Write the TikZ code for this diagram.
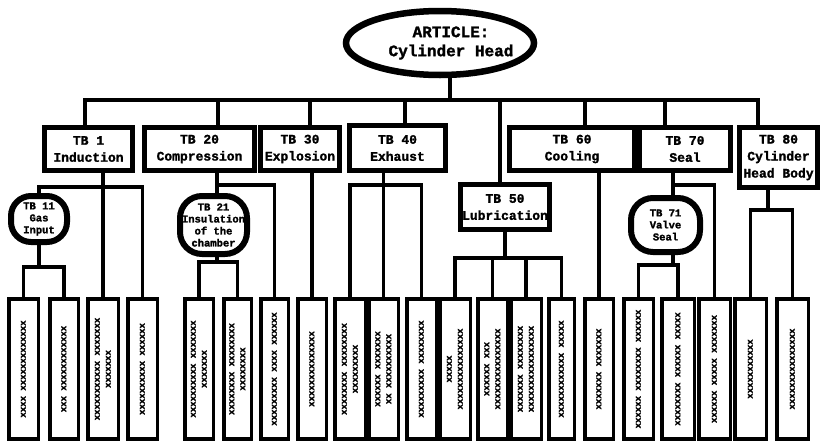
\documentclass[tikz,border=0pt]{standalone}
\usepackage{fontspec}
\newfontfamily\cmono{Liberation Mono}[BoldFeatures={FakeBold=1.6}]
\usetikzlibrary{shapes.geometric}
\newcommand\leaftxt[1]{\rotatebox{90}{\begin{tabular}{@{}c@{}}#1\end{tabular}}}
\tikzset{
 conn/.style={line width=3.5pt, line cap=rect},
 tbbox/.style={draw, line width=5pt, rectangle, inner sep=0pt, align=center,
   font=\cmono\bfseries\fontsize{13}{17}\selectfont},
 rnode/.style={draw, line width=6pt, rectangle, inner sep=0pt, align=center,
   font=\cmono\bfseries\fontsize{10.5}{12}\selectfont},
 leaf/.style={draw, line width=3.5pt, rectangle, inner sep=0pt, minimum height=140pt,
   font=\cmono\bfseries\fontsize{9}{11}\selectfont},
}
\begin{document}
\begin{tikzpicture}[x=1pt,y=-1pt]
\path[use as bounding box] (0,0) rectangle (821,442);
% root
\node[draw, ellipse, line width=6.5pt, minimum width=188pt, minimum height=64pt, inner sep=0pt] (art) at (440,43) {};
\node[align=center, inner sep=0pt, font=\cmono\bfseries\fontsize{16}{19}\selectfont] (artt) at (451,43) {ARTICLE:\\Cylinder Head};
% level 1
\node[tbbox, minimum width=88pt, minimum height=43pt] (tb1) at (88.5,149) {TB 1\\Induction};
\node[tbbox, minimum width=110pt, minimum height=43pt] (tb20) at (199.5,149) {TB 20\\Compression};
\node[tbbox, minimum width=79pt, minimum height=43pt] (tb30) at (300,149) {TB 30\\Explosion};
\node[tbbox, minimum width=96pt, minimum height=45pt] (tb40) at (397.5,148) {TB 40\\Exhaust};
\node[tbbox, minimum width=89pt, minimum height=45pt] (tb50) at (505,207) {TB 50\\Lubrication};
\node[tbbox, minimum width=125pt, minimum height=43pt] (tb60) at (572,149) {TB 60\\Cooling};
\node[tbbox, minimum width=91pt, minimum height=43pt] (tb70) at (685,149) {TB 70\\Seal};
\node[tbbox, minimum width=78pt, minimum height=60pt] (tb80) at (778.5,157.5) {TB 80\\Cylinder\\Head Body};
% rounded nodes
\node[rnode, rounded corners=20pt, minimum width=56pt, minimum height=46pt] (tb11) at (39,219) {TB 11\\Gas\\Input};
\node[rnode, rounded corners=22pt, minimum width=67pt, minimum height=58pt] (tb21) at (213.5,225) {TB 21\\Insulation\\of the\\chamber};
\node[rnode, rounded corners=22pt, minimum width=69pt, minimum height=54pt] (tb71) at (665.5,225) {TB 71\\Valve\\Seal};
% leaves
\node[leaf, minimum width=29.5pt] (l1) at (23.5,369) {\leaftxt{xxxx xxxxxxxxxxxxx}};
\node[leaf, minimum width=28.5pt] (l2) at (64,369) {\leaftxt{xxx xxxxxxxxxxxx}};
\node[leaf, minimum width=30.5pt] (l3) at (103,369) {\leaftxt{xxxxxxxxxxx xxxxxxx\\xxxxxxx}};
\node[leaf, minimum width=29.5pt] (l4) at (142.5,369) {\leaftxt{xxxxxxxxxx xxxxxx}};
\node[leaf, minimum width=28.5pt] (l5) at (199,369) {\leaftxt{xxxxxxxxxx xxxxxxx\\xxxxxxx}};
\node[leaf, minimum width=27.5pt] (l6) at (237.5,369) {\leaftxt{xxxxxxxx xxxxxxxx\\xxxxxxxx}};
\node[leaf, minimum width=27.5pt] (l7) at (274.5,369) {\leaftxt{xxxxxxxxx xxxx xxxxxx}};
\node[leaf, minimum width=28.5pt] (l8) at (312,369) {\leaftxt{xxxxxxxxxxxxxx}};
\node[leaf, minimum width=30.5pt] (l9) at (350,369) {\leaftxt{xxxxxxxx xxxxxxxx\\xxxxxxxxx}};
\node[leaf, minimum width=29.5pt] (l10) at (383.5,369) {\leaftxt{xxxxxx xxxxxxx\\xx xxxxxxxxxx}};
\node[leaf, minimum width=29.5pt] (l11) at (421.5,369) {\leaftxt{xxxxxxxxx xxxxxxxx}};
\node[leaf, minimum width=30.5pt] (l12) at (455,369) {\leaftxt{xxxxx\\xxxxxxxxxxxxxxx}};
\node[leaf, minimum width=29.5pt] (l13) at (492.5,369) {\leaftxt{xxxxxx xxx\\xxxxxxxxxxxxxxx}};
\node[leaf, minimum width=30.5pt] (l14) at (526,369) {\leaftxt{xxxxxxx xxxxxxxx\\xxxxxxxxxxxxxxxx}};
\node[leaf, minimum width=25.5pt] (l15) at (561.5,369) {\leaftxt{xxxxxxxxxxxx xxxxx}};
\node[leaf, minimum width=28.5pt] (l16) at (599,369) {\leaftxt{xxxxxxx xxxxxxx}};
\node[leaf, minimum width=29.5pt] (l17) at (638.5,369) {\leaftxt{xxxxxx xxxxxxxx xxxxxx}};
\node[leaf, minimum width=32.5pt] (l18) at (678,369) {\leaftxt{xxxxxxxx xxxxxx xxxxx}};
\node[leaf, minimum width=31.5pt] (l19) at (714.5,369) {\leaftxt{xxxxxx xxxxx xxxxxxx}};
\node[leaf, minimum width=31.5pt] (l20) at (750.5,369) {\leaftxt{xxxxxxxxxxx}};
\node[leaf, minimum width=31.5pt] (l21) at (792.5,369) {\leaftxt{xxxxxxxxxxxxxxx}};
% junctions
\coordinate (bt) at (450,100);
\coordinate (b1) at (85,100);
\coordinate (b2) at (218,100);
\coordinate (b3) at (310,100);
\coordinate (b4) at (405,100);
\coordinate (b5) at (500,100);
\coordinate (b6) at (585,100);
\coordinate (b7) at (665,100);
\coordinate (b8) at (758,100);
\coordinate (j1) at (103,187);
\coordinate (j11) at (39,267);
\coordinate (j20) at (217,185);
\coordinate (j21) at (217,262);
\coordinate (j40) at (383.5,185);
\coordinate (j50) at (505,258);
\coordinate (j70) at (673,185);
\coordinate (j71) at (673,265);
\coordinate (j80) at (768,210);
% bus
\draw[conn] (art.south -| bt) -- (bt);
\draw[conn] (b1) -- (b8);
\foreach \b/\t in {b1/tb1, b2/tb20, b3/tb30, b4/tb40, b5/tb50, b6/tb60, b7/tb70, b8/tb80}
  \draw[conn] (\b) -- (\b |- \t.north);
% TB 1
\draw[conn] (tb1.south -| l3.north) -- (l3.north);
\draw[conn] (tb11.north) |- (j1) -| (l4.north);
\draw[conn] (tb11.south) -- (j11);
\draw[conn] (l1.north) |- (j11) -| (l2.north);
% TB 20
\draw[conn] (tb20.south -| j20) -- (tb21.north -| j20);
\draw[conn] (j20) -| (l7.north);
\draw[conn] (tb21.south -| j21) -- (j21);
\draw[conn] (l5.north) |- (j21) -| (l6.north);
% TB 30
\draw[conn] (tb30.south -| l8.north) -- (l8.north);
% TB 40
\draw[conn] (tb40.south -| l10.north) -- (l10.north);
\draw[conn] (l9.north) |- (j40) -| (l11.north);
% TB 50
\draw[conn] (tb50.south -| j50) -- (j50);
\draw[conn] (l12.north) |- (j50) -| (l15.north);
\draw[conn] (l13.north) -- (l13.north |- j50);
\draw[conn] (l14.north) -- (l14.north |- j50);
% TB 60
\draw[conn] (tb60.south -| l16.north) -- (l16.north);
% TB 70
\draw[conn] (tb70.south -| j70) -- (tb71.north -| j70);
\draw[conn] (j70) -| (l19.north);
\draw[conn] (tb71.south -| j71) -- (j71);
\draw[conn] (l17.north) |- (j71) -| (l18.north);
% TB 80
\draw[conn] (tb80.south -| j80) -- (j80);
\draw[conn] (l20.north) |- (j80) -| (l21.north);
\end{tikzpicture}
\end{document}
